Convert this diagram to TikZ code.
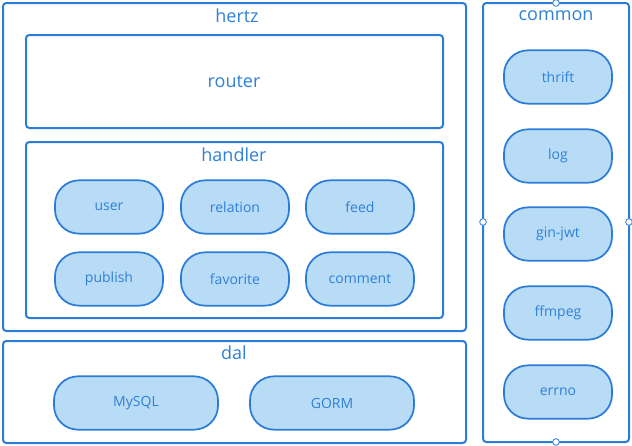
\documentclass[tikz,border=0pt]{standalone}
\usepackage{fontspec}
\setmainfont{Open Sans}
\usetikzlibrary{positioning}

\definecolor{edge}{HTML}{2B7CD6}
\definecolor{pill}{HTML}{B8DCF6}
\definecolor{ink}{HTML}{2F80D8}

\begin{document}
\begin{tikzpicture}[x=0.75pt,y=-0.75pt,
    frame/.style={draw=edge,line width=1.5pt,rounded corners=2.5pt},
    title/.style={text=ink,font=\fontsize{13.5}{15}\selectfont},
    item/.style={draw=edge,fill=pill,line width=1.3pt,rounded corners=18pt,
      minimum width=81pt,minimum height=40pt,text=ink,font=\fontsize{10.5}{12}\selectfont},
    wide/.style={item,minimum width=123pt},
    port/.style={circle,draw=edge,fill=white,line width=0.6pt,inner sep=0pt,minimum size=5pt}]
  \useasboundingbox (0,0) rectangle (632,446);
  % hertz
  \draw[frame] (3,3) rectangle (466,331);
  \node[title] (hertz) at (237,16) {hertz};
  \draw[frame] (26,35) rectangle (443,128);
  \node[title] (router) at (234,82) {router};
  \draw[frame] (26,142) rectangle (443,318);
  \node[title] (handler) at (234,155) {handler};
  \node[item] (user) at (109,207) {user};
  \node[item] (relation) at (235,207) {relation};
  \node[item] (feed) at (360,207) {feed};
  \node[item] (publish) at (109,279) {publish};
  \node[item] (favorite) at (235,279) {favorite};
  \node[item] (comment) at (360,279) {comment};
  % dal
  \draw[frame] (3,341) rectangle (466,443);
  \node[title] (dal) at (234,353) {dal};
  \node[wide] (mysql) at (136,403) {MySQL};
  \node[wide] (gorm) at (332,403) {GORM};
  % common
  \draw[frame] (483,3) rectangle (629,442);
  \node[title] (common) at (556,16) {common};
  \foreach \name/\y in {thrift/77,log/156,gin-jwt/234,ffmpeg/313,errno/392}
    \node[item] (\name) at (558,\y) {\name};
  \node[port] (top) at (556,3) {};
  \node[port] (bot) at (556,442) {};
  \node[port] (lft) at (483,222) {};
  \node[port] (rgt) at (629,222) {};
\end{tikzpicture}
\end{document}
